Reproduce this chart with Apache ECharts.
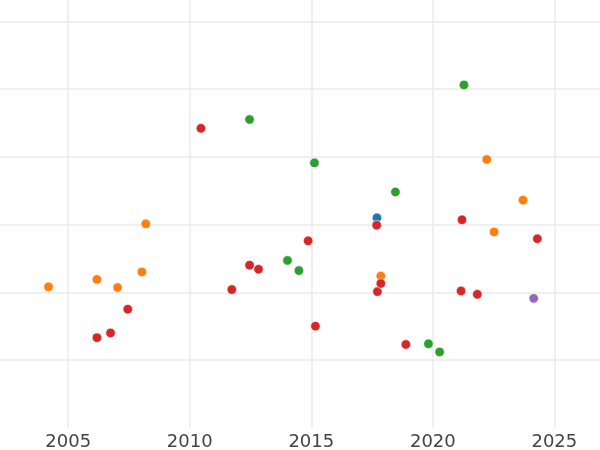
<!DOCTYPE html>
<html>
<head>
<meta charset="utf-8">
<script src="https://cdn.jsdelivr.net/npm/echarts@6/dist/echarts.min.js"></script>
<style>html,body{margin:0;padding:0;background:#fff}#c{width:600px;height:450px}</style>
</head>
<body>
<div id="c"></div>
<script>
// x: year, y: value (axis units, unlabeled in the reference)
const blueX = [2017.70];
const blueY = [3.10];
const orangeX = [2004.19, 2006.18, 2007.03, 2008.03, 2008.19, 2017.86, 2022.22, 2022.52, 2023.71];
const orangeY = [2.08, 2.19, 2.07, 2.30, 3.01, 2.24, 3.96, 2.89, 3.36];
const greenX = [2012.46, 2014.02, 2014.49, 2015.13, 2018.46, 2019.82, 2020.28, 2021.28];
const greenY = [4.55, 2.47, 2.32, 3.91, 3.48, 1.24, 1.12, 5.06];
const redX = [2006.18, 2006.74, 2007.45, 2010.46, 2011.73, 2012.46, 2012.83, 2014.87, 2015.17, 2017.69, 2017.72, 2017.86, 2018.89, 2021.16, 2021.20, 2021.83, 2024.30];
const redY = [1.33, 1.40, 1.75, 4.42, 2.04, 2.40, 2.34, 2.76, 1.50, 2.99, 2.01, 2.13, 1.23, 2.02, 3.07, 1.97, 2.79];
const purpleX = [2024.15];
const purpleY = [1.91];

const xTicks = [2000, 2005, 2010, 2015, 2020, 2025, 2030];

function pts(xs, ys) { return xs.map((x, i) => [x, ys[i]]); }

const chart = echarts.init(document.getElementById('c'), null, {renderer: 'canvas'});
const itemStyle = c => ({color: c, borderColor: '#ffffff', borderWidth: 0.6, opacity: 1});
const mk = (name, c, xs, ys) => ({
  name, type: 'scatter', symbol: 'circle', symbolSize: 9.5,
  data: pts(xs, ys), itemStyle: itemStyle(c), emphasis: {disabled: true}, animation: false
});
chart.setOption({
  animation: false,
  backgroundColor: '#ffffff',
  grid: {left: -53.3, right: -75.9, top: -46.5, bottom: 22.2, containLabel: false, outerBoundsMode: 'none'},
  xAxis: {
    type: 'value', min: xTicks[0], max: xTicks[xTicks.length - 1], interval: 5,
    axisLine: {show: false}, axisTick: {show: false},
    axisLabel: {color: '#444444', fontSize: 18, fontFamily: 'DejaVu Sans', margin: 6,
      formatter: v => String(v)},
    splitLine: {show: true, lineStyle: {color: '#ebebeb', width: 1.5}}
  },
  yAxis: {
    type: 'value', min: 0, max: 7, interval: 1,
    axisLine: {show: false}, axisTick: {show: false}, axisLabel: {show: false},
    splitLine: {show: true, showMinLine: false, lineStyle: {color: '#ebebeb', width: 1.5}}
  },
  series: [
    mk('blue', '#1f77b4', blueX, blueY),
    mk('orange', '#ff7f0e', orangeX, orangeY),
    mk('green', '#2ca02c', greenX, greenY),
    mk('red', '#d62728', redX, redY),
    mk('purple', '#9467bd', purpleX, purpleY)
  ]
});
</script>
</body>
</html>
